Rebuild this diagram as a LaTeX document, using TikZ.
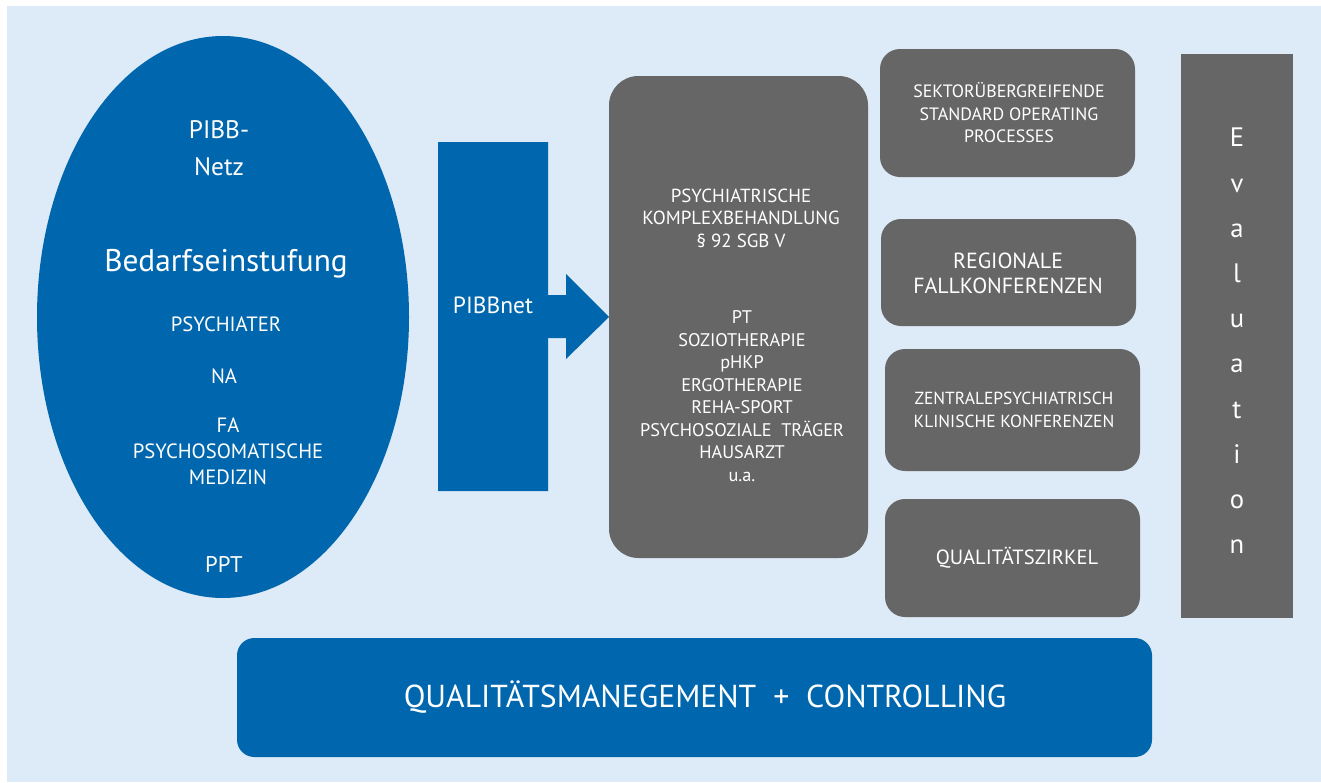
\documentclass[tikz,border=0pt]{standalone}
\usepackage{fontspec}
\setmainfont{PT Sans}
\usetikzlibrary{positioning}
\definecolor{pibbblue}{HTML}{0066AD}
\definecolor{boxgrey}{HTML}{666666}
\definecolor{paleblue}{HTML}{DDEAF7}

\begin{document}
\begin{tikzpicture}[x=0.75pt,y=0.75pt,yscale=-1,xscale=1,
  wtext/.style={text=white,align=center,inner sep=0pt}]
\useasboundingbox (0,0) rectangle (1321,782);

%Shape: Rectangle [id:background]
\fill [paleblue] (7,6) rectangle (1321,782);
%Shape: Ellipse [id:netz]
\fill [pibbblue] (223,317) ellipse [x radius=186, y radius=281];
%Shape: Block Arrow [id:pibbnet]
\fill [pibbblue] (438,142) -- (548,142) -- (548,295) -- (566,295) -- (566,274) -- (609,317) -- (566,359) -- (566,338) -- (548,338) -- (548,491) -- (438,491) -- cycle;
%Shape: Rounded Rect [id:komplex]
\fill [boxgrey, rounded corners=22pt] (609,76) rectangle (868,558);
%Shape: Rounded Rect [id:sop]
\fill [boxgrey, rounded corners=15pt] (880,49) rectangle (1135,177);
%Shape: Rounded Rect [id:regional]
\fill [boxgrey, rounded corners=15pt] (881,219) rectangle (1136,326);
%Shape: Rounded Rect [id:zentral]
\fill [boxgrey, rounded corners=15pt] (885,349) rectangle (1140,471);
%Shape: Rounded Rect [id:zirkel]
\fill [boxgrey, rounded corners=15pt] (885,499) rectangle (1140,617);
%Shape: Rectangle [id:evaluation]
\fill [boxgrey] (1181,54) rectangle (1293,618);
%Shape: Rounded Rect [id:qm]
\fill [pibbblue, rounded corners=13pt] (237,638) rectangle (1152,757);

% Text Node
\draw (219,148) node (pibb) [wtext] [font=\fontsize{19}{28}\selectfont] {PIBB-\\Netz};
% Text Node
\draw (226,264) node (bedarf) [wtext] [font=\fontsize{23.5}{27}\selectfont] {Bedarfseinstufung};
% Text Node
\draw (226,324) node (psychiater) [wtext] [font=\fontsize{15.5}{18}\selectfont] {PSYCHIATER};
% Text Node
\draw (224,376) node (na) [wtext] [font=\fontsize{15.5}{18}\selectfont] {NA};
% Text Node
\draw (228,451) node (fa) [wtext] [font=\fontsize{15.5}{19.5}\selectfont] {FA\\PSYCHOSOMATISCHE\\MEDIZIN};
% Text Node
\draw (224,564) node (ppt) [wtext] [font=\fontsize{17}{20}\selectfont] {PPT};
% Text Node
\draw (493,305) node (pibbnet) [wtext] [font=\fontsize{17.6}{20}\selectfont] {PIBBnet};
% Text Node
\draw (741,218) node (paragraf) [wtext] [font=\fontsize{14.2}{16.9}\selectfont] {PSYCHIATRISCHE\\KOMPLEXBEHANDLUNG\\§ 92 SGB V};
% Text Node
\draw (742,396) node (leistungen) [wtext] [font=\fontsize{13.7}{16.9}\selectfont] {PT\\SOZIOTHERAPIE\\pHKP\\ERGOTHERAPIE\\REHA-SPORT\\PSYCHOSOZIALE~~TRÄGER\\HAUSARZT\\u.a.};
% Text Node
\draw (1009,113) node (soptext) [wtext] [font=\fontsize{13.4}{16.9}\selectfont] {SEKTORÜBERGREIFENDE\\STANDARD OPERATING\\PROCESSES};
% Text Node
\draw (1008,273) node (regiotext) [wtext] [font=\fontsize{16.4}{18.8}\selectfont] {REGIONALE\\FALLKONFERENZEN};
% Text Node
\draw (1014,410) node (zentraltext) [wtext] [font=\fontsize{13.1}{17}\selectfont] {ZENTRALEPSYCHIATRISCH\\KLINISCHE KONFERENZEN};
% Text Node
\draw (1017,558) node (zirkeltext) [wtext] [font=\fontsize{15.4}{18}\selectfont] {QUALITÄTSZIRKEL};
% Text Node
\draw (1237,341) node (evaltext) [wtext] [font=\fontsize{20}{33.9}\selectfont] {E\\v\\a\\l\\u\\a\\t\\i\\o\\n};
% Text Node
\draw (705,697) node (qmtext) [wtext] [font=\fontsize{23.8}{27}\selectfont] {QUALITÄTSMANEGEMENT~~+~~CONTROLLING};

\end{tikzpicture}
\end{document}
